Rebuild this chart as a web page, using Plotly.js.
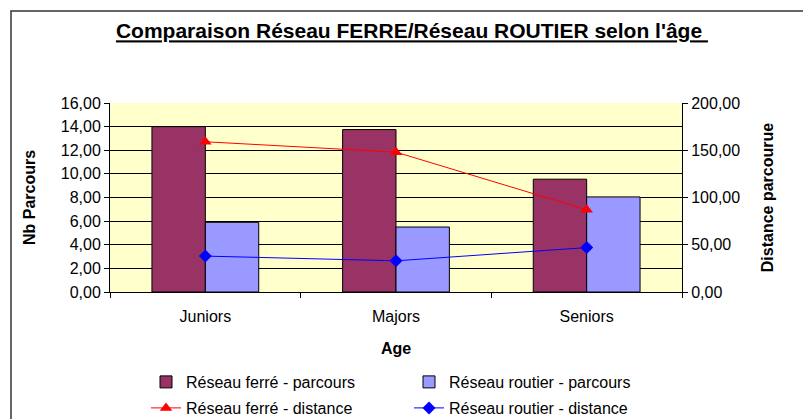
<!DOCTYPE html>
<html><head><meta charset="utf-8">
<script src="https://cdn.plot.ly/plotly-3.0.1.min.js"></script>
<style>html,body{margin:0;padding:0;background:#fff}</style>
</head><body><div id="chart" style="width:803px;height:419px"></div>
<script>
const categories = ['Juniors', 'Majors', 'Seniors'];
const ferreParcours = [14.0, 13.75, 9.55];
const routierParcours = [5.9, 5.5, 8.05];
const ferreDistance = [159, 148, 87];
const routierDistance = [38, 33, 47];
const leftTickVals = [0, 2, 4, 6, 8, 10, 12, 14, 16];
const rightTickVals = [0, 50, 100, 150, 200];
const seriesNames = ['Réseau ferré - parcours', 'Réseau routier - parcours', 'Réseau ferré - distance', 'Réseau routier - distance'];

const F = 'Liberation Sans, Arial, sans-serif';
const traces = [
  {type:'bar', x:categories, y:ferreParcours, name:seriesNames[0], legend:'legend',
   marker:{color:'#993366', line:{color:'#000', width:1}}},
  {type:'bar', x:categories, y:routierParcours, name:seriesNames[1], legend:'legend',
   marker:{color:'#9999FF', line:{color:'#000', width:1}}},
  {type:'scatter', mode:'lines+markers', x:categories, y:ferreDistance, yaxis:'y2', name:seriesNames[2], legend:'legend2',
   line:{color:'#FF0000', width:1}, marker:{symbol:'triangle-up', size:11, color:'#FF0000'}},
  {type:'scatter', mode:'lines+markers', x:categories, y:routierDistance, yaxis:'y2', name:seriesNames[3], legend:'legend2',
   line:{color:'#0000FF', width:1}, marker:{symbol:'diamond', size:10, color:'#0000FF'}}
];
const layout = {
  width:803, height:419,
  margin:{l:110, r:121, t:103, b:127, autoexpand:false},
  paper_bgcolor:'#fff', plot_bgcolor:'#FFFFCC',
  separators:', ',
  font:{family:F, size:16, color:'#000'},
  barmode:'group', bargap:0.44, bargroupgap:0,
  title:{text:'<u>Comparaison Réseau FERRE/Réseau ROUTIER selon l\'âge </u>', font:{family:F, size:21, weight:'bold', color:'#000'},
         x:0.513, xanchor:'center', y:1-31/419, yanchor:'middle', xref:'container', yref:'container'},
  xaxis:{type:'category', automargin:false, showline:true, linecolor:'#000', linewidth:1, ticks:'outside', tickson:'boundaries',
         ticklen:5, tickcolor:'#000', showgrid:false, ticklabelstandoff:10,
         tickfont:{size:16}, title:{text:'<b>Age</b>', font:{size:16}, standoff:18}},
  yaxis:{range:[0,16], automargin:false, tickvals:leftTickVals, tickformat:'.2f', showline:true, linecolor:'#000', linewidth:1,
         ticks:'outside', ticklen:5, tickcolor:'#000', showgrid:true, gridcolor:'#000', gridwidth:1,
         zeroline:false, tickfont:{size:16},
         title:{text:'<b>Nb Parcours</b>', font:{size:16}, standoff:21}},
  yaxis2:{range:[0,200], automargin:false, tickvals:rightTickVals, tickformat:'.2f', overlaying:'y', side:'right', showline:true,
         linecolor:'#000', linewidth:1, ticks:'outside', ticklen:5, tickcolor:'#000', showgrid:false, zeroline:false,
         tickfont:{size:16}, title:{text:'<b>Distance parcourue</b>', font:{size:16}, standoff:22}},
  legend:{orientation:'h', xref:'container', yref:'container', x:146/803, xanchor:'left', y:1-382/419, yanchor:'middle', entrywidth:218,
          font:{size:16}, bgcolor:'rgba(0,0,0,0)', traceorder:'normal'},
  legend2:{orientation:'h', xref:'container', yref:'container', x:146/803, xanchor:'left', y:1-408/419, yanchor:'middle', entrywidth:218,
          font:{size:16}, bgcolor:'rgba(0,0,0,0)', traceorder:'normal'},
  shapes:[{type:'rect', xref:'paper', yref:'paper', x0:(11-110)/572, x1:2, y0:-2, y1:(292-11)/189,
           line:{color:'#333', width:1.5}, fillcolor:'rgba(0,0,0,0)', layer:'below'}]
};
Plotly.newPlot('chart', traces, layout, {displayModeBar:false, staticPlot:true});
</script></body></html>
